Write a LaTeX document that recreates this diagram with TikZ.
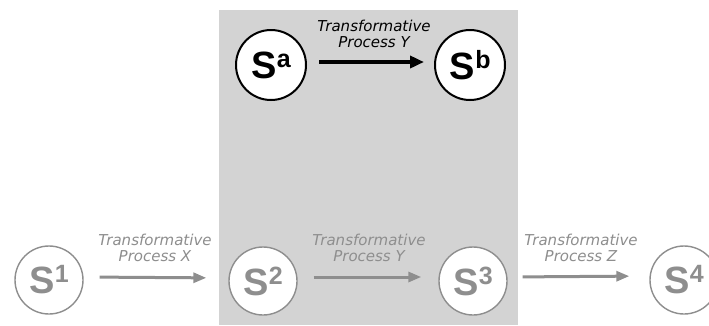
\documentclass[tikz,border=0pt]{standalone}
\usepackage{fontspec}
\setmainfont{Liberation Sans}
\newfontfamily\lblfont{DejaVu Sans}
\usetikzlibrary{arrows.meta}
\definecolor{bggray}{HTML}{D3D3D3}
\definecolor{fadegray}{HTML}{8E8E8E}
\newcommand{\stateS}[1]{\fontsize{38}{38}\selectfont S\kern0.5pt\raisebox{11pt}{\fontsize{25}{25}\selectfont #1}}
\tikzset{
  topstate/.style={circle, draw=black, line width=2pt, fill=white, minimum size=70pt, inner sep=0pt, font=\bfseries},
  botstate/.style={circle, draw=fadegray, line width=1.4pt, fill=white, minimum size=68pt, inner sep=0pt, text=fadegray, font=\bfseries},
  toparrow/.style={draw=black, line width=3.5pt, -{Triangle[length=14pt,width=12pt]}},
  botarrow/.style={draw=fadegray, line width=3pt, -{Triangle[length=13pt,width=10pt]}},
  procl/.style={font=\lblfont\itshape\fontsize{15}{16.5}\selectfont, align=center, inner sep=0pt, anchor=south},
}
\begin{document}
\begin{tikzpicture}[x=1pt,y=-1pt]
\useasboundingbox (0,0) rectangle (709,325);
\fill[white] (0,0) rectangle (709,325);
\fill[bggray] (219,10) rectangle (518,325);
% top row
\node[topstate] (sa) at (271,65) {\stateS{a}};
\node[topstate] (sb) at (470,65) {\stateS{b}};
\draw[toparrow, shorten <=12pt, shorten >=10pt] ([yshift=3pt]sa.east) -- ([yshift=3pt]sb.west);
\node[procl, text=black] (ly) at (374,48) {Transformative\\Process Y};
% bottom row
\node[botstate] (s1) at (49,280) {\stateS{1}};
\node[botstate] (s2) at (263,281) {\stateS{2}};
\node[botstate] (s3) at (473,281) {\stateS{3}};
\node[botstate] (s4) at (684,280) {\stateS{4}};
\draw[botarrow, shorten <=16pt, shorten >=22pt] ([yshift=3pt]s1.east) -- ([yshift=3pt]s2.west);
\draw[botarrow, shorten <=16pt, shorten >=17pt] ([yshift=4pt]s2.east) -- ([yshift=4pt]s3.west);
\draw[botarrow, shorten <=15pt, shorten >=20pt] ([yshift=4pt]s3.east) -- ([yshift=4pt]s4.west);
\node[procl, text=fadegray] (lx) at (155,262) {Transformative\\Process X};
\node[procl, text=fadegray] (ly2) at (369,262) {Transformative\\Process Y};
\node[procl, text=fadegray] (lz) at (581,262) {Transformative\\Process Z};
\end{tikzpicture}
\end{document}
